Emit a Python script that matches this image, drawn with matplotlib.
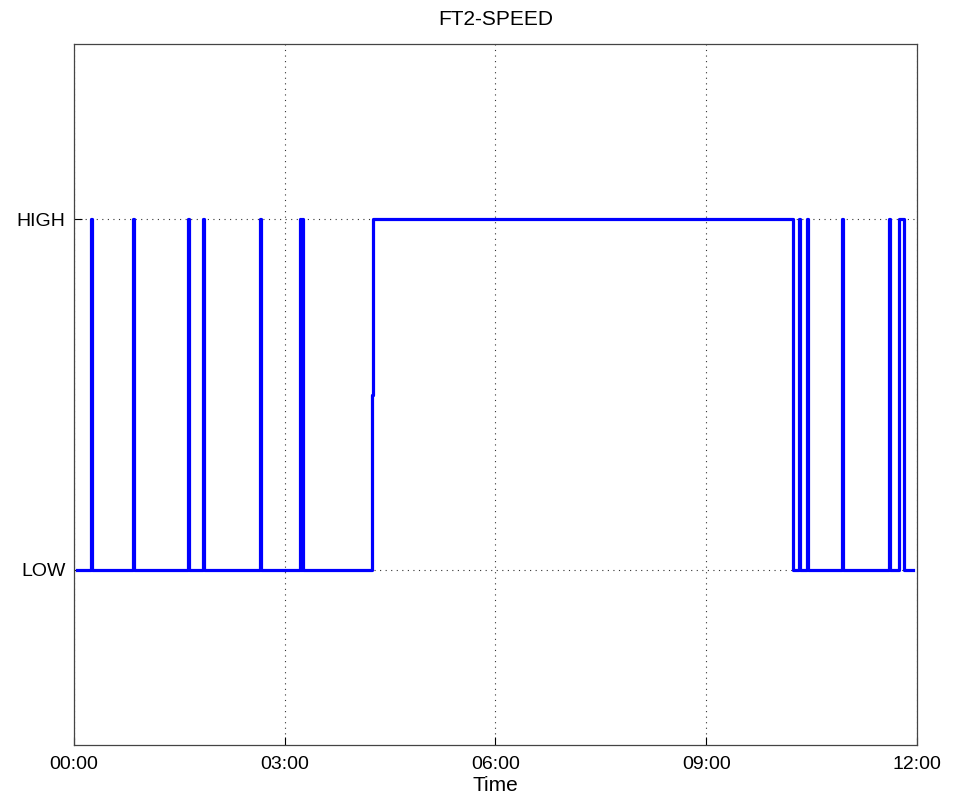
import matplotlib
matplotlib.use("Agg")
import matplotlib.pyplot as plt

# state change times (hours) and the state entered at each time (0 = LOW, 1 = HIGH)
times = [0.04, 0.245, 0.255, 0.84, 0.85, 1.625, 1.635, 1.835, 1.845, 2.655, 2.665,
         3.22, 3.225, 3.25, 3.255, 4.24, 4.245, 4.25,
         10.23, 10.325, 10.335, 10.44, 10.45, 10.935, 10.945,
         11.595, 11.61, 11.75, 11.82, 11.94]
states = [0, 1, 0, 1, 0, 1, 0, 1, 0, 1, 0,
          1, 0, 1, 0, 0.5, 0.5, 1,
          0, 1, 0, 1, 0, 1, 0,
          1, 0, 1, 0, 0]

xticks = [0, 3, 6, 9, 12]
xlabels = ["00:00", "03:00", "06:00", "09:00", "12:00"]
yticks = [0, 1]
ylabels = ["LOW", "HIGH"]

plt.rcParams['font.family'] = ['Liberation Sans Narrow', 'Liberation Sans', 'DejaVu Sans']

fig = plt.figure(figsize=(9.57, 8.02), dpi=100)
ax = fig.add_axes([0.0773, 0.0711, 0.8809, 0.874])

ax.step(times, states, where='post', color='#0000ff', lw=2.3)

ax.set_xlim(0, 12)
ax.set_ylim(-0.5, 1.5)
ax.set_xticks(xticks)
ax.set_xticklabels(xlabels)
ax.set_yticks(yticks)
ax.set_yticklabels(ylabels)
ax.tick_params(direction='in', length=6, width=0.8, labelsize=14, pad=8)
ax.tick_params(axis='y', pad=6)
ax.grid(True, color='#333333', linestyle=(0, (1, 4)), linewidth=0.8)
for s in ax.spines.values():
    s.set_color('#444444')
    s.set_linewidth(0.9)

ax.set_title("FT2-SPEED", fontsize=15, pad=14)
ax.set_xlabel("Time", fontsize=15, labelpad=2)

fig.savefig("out.png", dpi=100)
